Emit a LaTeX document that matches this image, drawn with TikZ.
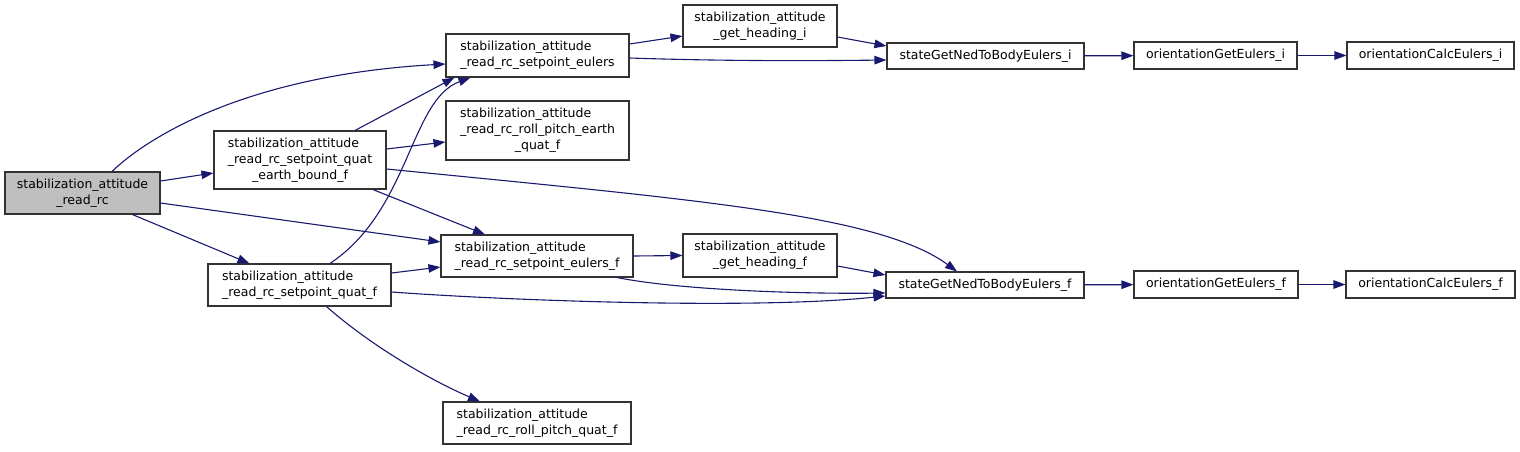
\documentclass[tikz,border=0pt]{standalone}
\usepackage{fontspec}
\setmainfont{DejaVu Sans}
\usetikzlibrary{arrows.meta}
\definecolor{edgec}{HTML}{191970}
\definecolor{boxc}{HTML}{333333}
\definecolor{rootc}{HTML}{BFBFBF}
\newcommand{\mylines}[1]{\begin{tabular}{@{}l@{}}#1\end{tabular}}
\newcommand{\lastc}[1]{\multicolumn{1}{@{}c@{}}{#1}}
\begin{document}
\begin{tikzpicture}[x=1pt,y=-1pt,
  fn/.style={draw=boxc, line width=1.1pt, fill=white, inner sep=0pt,
    font=\fontsize{12.5}{16}\selectfont, text=black},
  root/.style={fn, fill=rootc},
  edge/.style={draw=edgec, line width=1.1pt, -{Triangle[length=12pt,width=8.5pt]}}]
\useasboundingbox (0,0) rectangle (1520,451);
% nodes
\node[root, minimum width=155pt, minimum height=42pt] (n1) at (82.5,193)
  {\mylines{stabilization\_attitude\\\lastc{\_read\_rc}}};
\node[fn, minimum width=183pt, minimum height=43pt] (n2) at (537.5,55.5)
  {\mylines{stabilization\_attitude\\\_read\_rc\_setpoint\_eulers}};
\node[fn, minimum width=172pt, minimum height=58pt] (n3) at (300,160)
  {\mylines{stabilization\_attitude\\\_read\_rc\_setpoint\_quat\\\lastc{\_earth\_bound\_f}}};
\node[fn, minimum width=183pt, minimum height=59pt] (n4) at (537.5,130.5)
  {\mylines{stabilization\_attitude\\\_read\_rc\_roll\_pitch\_earth\\\lastc{\_quat\_f}}};
\node[fn, minimum width=192pt, minimum height=42pt] (n5) at (537,256)
  {\mylines{stabilization\_attitude\\\_read\_rc\_setpoint\_eulers\_f}};
\node[fn, minimum width=183pt, minimum height=42pt] (n6) at (299.5,285)
  {\mylines{stabilization\_attitude\\\_read\_rc\_setpoint\_quat\_f}};
\node[fn, minimum width=188pt, minimum height=42pt] (n7) at (537,423)
  {\mylines{stabilization\_attitude\\\_read\_rc\_roll\_pitch\_quat\_f}};
\node[fn, minimum width=154pt, minimum height=42pt] (n8) at (760,26)
  {\mylines{stabilization\_attitude\\\lastc{\_get\_heading\_i}}};
\node[fn, minimum width=154pt, minimum height=43pt] (n9) at (760,255.5)
  {\mylines{stabilization\_attitude\\\lastc{\_get\_heading\_f}}};
\node[fn, minimum width=197pt, minimum height=26pt] (n10) at (985.5,56)
  {stateGetNedToBodyEulers\_i};
\node[fn, minimum width=198pt, minimum height=26pt] (n11) at (985,285)
  {stateGetNedToBodyEulers\_f};
\node[fn, minimum width=163pt, minimum height=27pt] (n12) at (1215.5,55.5)
  {orientationGetEulers\_i};
\node[fn, minimum width=164pt, minimum height=27pt] (n13) at (1216,284.5)
  {orientationGetEulers\_f};
\node[fn, minimum width=167pt, minimum height=27pt] (n14) at (1430.5,55.5)
  {orientationCalcEulers\_i};
\node[fn, minimum width=169pt, minimum height=27pt] (n15) at (1430.5,284.5)
  {orientationCalcEulers\_f};
% edges
\draw[edge] ([xshift=29.5pt]n1.north) .. controls (150,135) and (250,75) .. ([yshift=-8.5pt]n2.west);
\draw[edge] ([yshift=12pt]n1.east) -- ([yshift=-13pt]n3.west);
\draw[edge] ([yshift=-10pt]n1.east) -- ([yshift=14pt]n5.west);
\draw[edge] ([xshift=50pt]n1.south) -- ([xshift=-50pt]n6.north);
\draw[edge] ([xshift=55pt]n3.north) -- ([xshift=-83pt]n2.south);
\draw[edge] ([yshift=11pt]n3.east) -- ([yshift=-11.5pt]n4.west);
\draw[edge] ([xshift=73pt]n3.south) -- ([xshift=-52pt]n5.north);
\draw[edge] ([yshift=-9pt]n3.east) .. controls (700,200) and (880,215) .. ([xshift=-28pt]n11.north);
\draw[edge] ([xshift=30.5pt]n6.north) .. controls (410,210) and (410,100) .. ([xshift=-67pt]n2.south);
\draw[edge] ([yshift=12pt]n6.east) -- ([yshift=-11pt]n5.west);
\draw[edge] ([yshift=-7pt]n6.east) .. controls (500,300) and (750,310) .. ([yshift=-11pt]n11.west);
\draw[edge] ([xshift=27pt]n6.south) .. controls (370,345) and (430,380) .. ([xshift=-57pt]n7.north);
\draw[edge] ([yshift=11.5pt]n2.east) -- ([yshift=-10pt]n8.west);
\draw[edge] ([yshift=-2.5pt]n2.east) .. controls (720,61) and (800,61) .. ([yshift=-4pt]n10.west);
\draw[edge] ([yshift=-11pt]n8.east) -- ([yshift=10pt]n10.west);
\draw[edge] (n5.east) -- (n9.west);
\draw[edge] ([xshift=80pt]n5.south) .. controls (680,290) and (800,294) .. ([yshift=-8pt]n11.west);
\draw[edge] ([yshift=-10.5pt]n9.east) -- ([yshift=10pt]n11.west);
\draw[edge] (n10) -- (n12);
\draw[edge] (n12) -- (n14);
\draw[edge] (n11) -- (n13);
\draw[edge] (n13) -- (n15);
\end{tikzpicture}
\end{document}
